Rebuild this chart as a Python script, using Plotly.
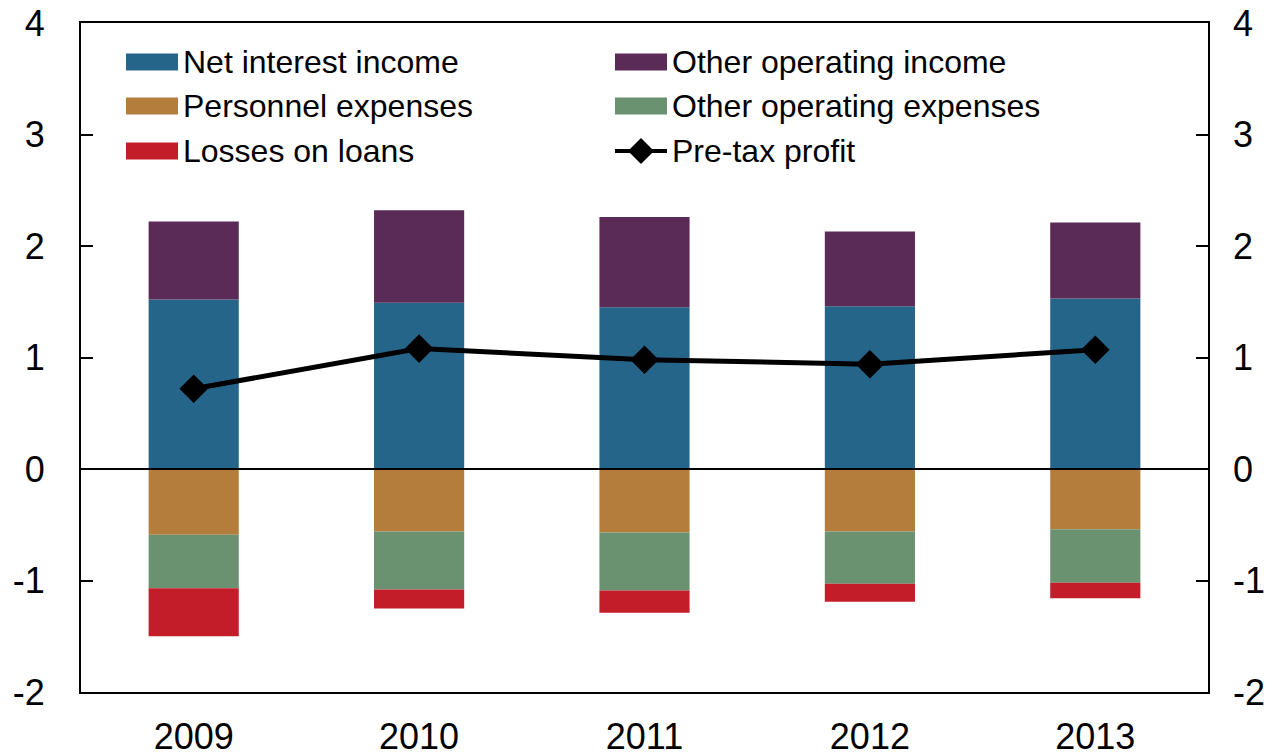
import plotly.graph_objects as go

years = ["2009", "2010", "2011", "2012", "2013"]
net_interest_income = [1.52, 1.49, 1.45, 1.46, 1.53]
other_operating_income = [0.70, 0.83, 0.81, 0.67, 0.68]
personnel_expenses = [-0.59, -0.56, -0.57, -0.56, -0.54]
other_operating_expenses = [-0.48, -0.52, -0.52, -0.47, -0.48]
losses_on_loans = [-0.43, -0.17, -0.20, -0.16, -0.14]
pretax_profit = [0.72, 1.08, 0.98, 0.94, 1.07]
y_ticks = [-2, -1, 0, 1, 2, 3, 4]
y_tick_labels = ["-2", "-1", "0", "1", "2", "3", "4"]

C_NII = "#26658A"
C_OOI = "#5A2B57"
C_PER = "#B57D3B"
C_OOE = "#6A9270"
C_LOS = "#C41D2A"

FONT = "Liberation Sans, Arial, sans-serif"
FS = 32      # legend text
TFS = 36     # tick labels
OFF = 8  # page body margin
W, H = 1274 - OFF, 756 - OFF
L, R, T, B = 81 - OFF, 1208 - OFF, 23 - OFF, 692 - OFF

fig = go.Figure()
for name, vals, col in [
    ("Net interest income", net_interest_income, C_NII),
    ("Other operating income", other_operating_income, C_OOI),
    ("Personnel expenses", personnel_expenses, C_PER),
    ("Other operating expenses", other_operating_expenses, C_OOE),
    ("Losses on loans", losses_on_loans, C_LOS),
]:
    fig.add_trace(go.Bar(x=years, y=vals, name=name, marker=dict(color=col, line=dict(width=0)),
                         showlegend=False))

fig.add_trace(go.Scatter(x=years, y=pretax_profit, name="Pre-tax profit", mode="lines+markers",
                         line=dict(color="black", width=5),
                         marker=dict(symbol="diamond", size=22, color="black"),
                         showlegend=False))
# invisible trace for right axis
fig.add_trace(go.Scatter(x=years, y=pretax_profit, yaxis="y2", mode="markers",
                         marker=dict(opacity=0), showlegend=False, hoverinfo="skip"))

def px(x):
    x = x - OFF
    return (x - L) / (R - L)

def py(y):
    y = y - OFF
    return (B - y) / (B - T)

shapes = []
annotations = []
legend_items = [
    ("Net interest income", C_NII, 126, 62, "bar"),
    ("Personnel expenses", C_PER, 126, 106, "bar"),
    ("Losses on loans", C_LOS, 126, 151, "bar"),
    ("Other operating income", C_OOI, 615, 62, "bar"),
    ("Other operating expenses", C_OOE, 615, 106, "bar"),
    ("Pre-tax profit", "black", 615, 151, "line"),
]
for text, col, x0, yc, kind in legend_items:
    if kind == "bar":
        shapes.append(dict(type="rect", xref="paper", yref="paper",
                           x0=px(x0), x1=px(x0 + 52), y0=py(yc + 8.5), y1=py(yc - 8.5),
                           fillcolor=col, line=dict(width=0)))
    else:
        shapes.append(dict(type="line", xref="paper", yref="paper",
                           x0=px(x0), x1=px(x0 + 52), y0=py(yc), y1=py(yc),
                           line=dict(color="black", width=4)))
        cx = x0 + 26
        d = 13
        path = "M {} {} L {} {} L {} {} L {} {} Z".format(
            px(cx - d), py(yc), px(cx), py(yc - d), px(cx + d), py(yc), px(cx), py(yc + d))
        shapes.append(dict(type="path", xref="paper", yref="paper", path=path,
                           fillcolor="black", line=dict(width=0)))
    annotations.append(dict(text=text, xref="paper", yref="paper", x=px(x0 + 55), y=py(yc),
                            xanchor="left", yanchor="middle", showarrow=False,
                            font=dict(family=FONT, size=FS, color="black")))

# zero line
shapes.append(dict(type="line", xref="paper", yref="y", x0=0, x1=1, y0=0, y1=0,
                   line=dict(color="black", width=2)))

fig.update_layout(
    width=W, height=H,
    margin=dict(l=L, r=W - R, t=T, b=H - B, pad=0),
    paper_bgcolor="white", plot_bgcolor="white",
    barmode="relative", bargap=0.6,
    font=dict(family=FONT, size=FS, color="black"),
    shapes=shapes, annotations=annotations,
    xaxis=dict(showgrid=False, showline=True, linecolor="black", linewidth=2, mirror=True,
               ticks="", tickfont=dict(size=TFS), ticklabelstandoff=12, zeroline=False,
               automargin=False, ticklabeloverflow="allow"),
    yaxis=dict(range=[-2, 4], tickvals=y_ticks, ticktext=y_tick_labels,
               showgrid=False, zeroline=False,
               showline=True, linecolor="black", linewidth=2, mirror=True,
               ticks="inside", ticklen=12, tickcolor="black", tickwidth=1.5,
               tickfont=dict(size=TFS), ticklabelstandoff=27, automargin=False,
               ticklabeloverflow="allow"),
    yaxis2=dict(range=[-2, 4], tickvals=y_ticks, ticktext=y_tick_labels,
                overlaying="y", side="right",
                showgrid=False, zeroline=False, showline=False,
                ticks="inside", ticklen=12, tickcolor="black", tickwidth=1.5,
                tickfont=dict(size=TFS), ticklabelstandoff=24, automargin=False,
                ticklabeloverflow="allow"),
)

fig.write_html("out.html")
